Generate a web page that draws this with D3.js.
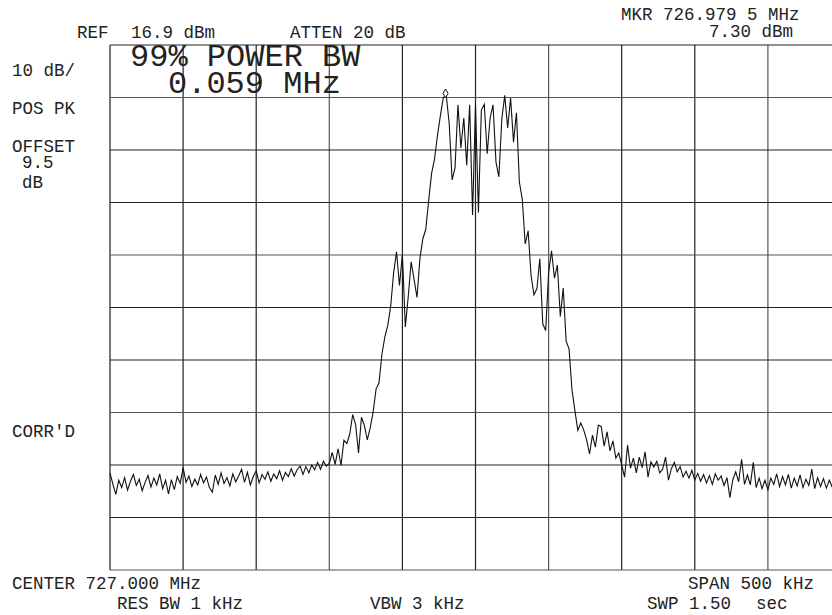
<!DOCTYPE html>
<html>
<head>
<meta charset="utf-8">
<script src="https://cdn.jsdelivr.net/npm/d3@7"></script>
<style>
  body { margin: 0; background: #fff; }
  text { font-family: "Liberation Mono", "Courier New", monospace; fill: #222; }
</style>
</head>
<body>
<div id="chart"></div>
<script>
var svgWidth = 832;
var svgHeight = 615;

// analyzer settings
var centerMHz = 727.000;
var spanKHz = 500;
var refLevel = 16.9;
var dbPerDiv = 10;
var numDivs = 10;

// marker
var markerOffsetKHz = -20.5;  // 726.979 5 MHz
var markerLevel = 7.30;

// trace levels (dBm) at the 251 sweep points
var traceLevels = [
  -64.6, -66.8, -68.7, -66.0, -67.4, -65.5, -67.9, -66.2, -64.9, -67.0,
  -65.8, -68.0, -66.4, -65.1, -67.3, -65.6, -66.9, -64.8, -67.6, -66.0,
  -68.6, -65.9, -67.8, -65.3, -66.6, -63.6, -66.4, -65.2, -67.2, -65.8,
  -66.9, -64.9, -66.5, -65.4, -67.4, -68.3, -65.0, -66.8, -64.6, -66.6,
  -65.5, -67.1, -64.8, -66.3, -65.2, -63.9, -66.4, -64.5, -66.9, -65.3,
  -64.2, -66.5, -64.9, -65.8, -64.4, -66.2, -64.8, -65.7, -64.2, -66.0,
  -64.5, -65.3, -63.8, -65.2, -64.0, -63.3, -64.9, -63.4, -64.6, -63.1,
  -64.0, -62.6, -63.9, -62.4, -63.3, -62.8, -60.7, -63.0, -60.0, -63.2,
  -58.4, -59.0, -57.2, -53.5, -55.4, -60.8, -54.0, -55.6, -58.3, -56.0,
  -53.0, -48.6, -47.5, -42.0, -38.7, -36.5, -32.8, -26.5, -22.5, -28.9,
  -23.0, -36.8, -31.0, -24.4, -27.8, -31.2, -23.7, -20.0, -18.2, -12.6,
  -7.5, -4.8, -0.3, 3.5, 6.9, 7.3, 2.0, -8.8, -6.5, 5.5,
  -2.7, 3.0, -6.0, 5.5, -15.5, 5.5, -15.0, 4.5, 5.6, -3.8,
  3.0, 5.5, -5.4, -8.2, 2.8, 7.3, 1.1, 6.8, -1.6, 4.0,
  -9.2, -12.5, -21.0, -18.5, -27.0, -30.7, -29.5, -23.8, -36.2, -37.5,
  -26.5, -22.3, -27.5, -25.0, -34.8, -29.4, -39.5, -41.0, -48.8, -52.8,
  -56.5, -55.1, -56.4, -58.3, -61.0, -57.4, -59.7, -55.5, -55.8, -59.5,
  -56.8, -60.4, -58.5, -61.8, -60.8, -63.1, -65.4, -59.3, -63.7, -61.8,
  -64.6, -61.6, -63.6, -60.6, -65.4, -62.5, -63.5, -62.4, -64.6, -63.9,
  -61.6, -66.0, -63.8, -62.6, -64.4, -63.4, -65.4, -64.3, -65.6, -64.1,
  -66.0, -64.7, -66.2, -64.9, -66.5, -65.1, -66.8, -64.8, -66.0, -65.2,
  -67.0, -65.5, -69.3, -65.9, -64.4, -66.3, -62.0, -66.8, -65.0, -66.9,
  -62.6, -67.4, -65.6, -67.6, -66.0, -67.8, -65.6, -66.8, -64.8, -67.2,
  -65.3, -66.9, -64.9, -67.5, -65.6, -67.1, -65.0, -67.4, -65.8, -67.0,
  -63.9, -67.6, -65.5, -67.2, -65.7, -67.5, -66.0, -67.3, -65.8, -66.9,
  -66.2
];

// sweep points spread evenly across the span
var sweepOffsets = traceLevels.map(function(d, i) {
  return -spanKHz / 2 + i * spanKHz / (traceLevels.length - 1);
});

var traceData = traceLevels.map(function(d, i) {
  return { f: sweepOffsets[i], level: d };
});

var plot = { left: 110, top: 45, width: 731, height: 525 };

var svg = d3.select("#chart")
  .append("svg")
  .attr("width", svgWidth)
  .attr("height", svgHeight);

var xScale = d3.scaleLinear()
  .domain([-spanKHz / 2, spanKHz / 2])
  .range([plot.left, plot.left + plot.width]);

var yScale = d3.scaleLinear()
  .domain([refLevel - dbPerDiv * numDivs, refLevel])
  .range([plot.top + plot.height, plot.top]);

// graticule
var xTicks = d3.range(numDivs + 1).map(function(i) { return -spanKHz / 2 + i * spanKHz / numDivs; });
var yTicks = d3.range(numDivs + 1).map(function(i) { return refLevel - i * dbPerDiv; });

var grid = svg.append("g");

grid.selectAll("line.v")
  .data(xTicks)
  .enter()
  .append("line")
  .attr("class", "v")
  .attr("x1", function(d) { return xScale(d); })
  .attr("x2", function(d) { return xScale(d); })
  .attr("y1", plot.top)
  .attr("y2", plot.top + plot.height)
  .attr("stroke", function(d, i) { return i % 3 === 0 ? "#555" : "#222"; })
  .attr("stroke-width", function(d, i) { return i === 0 ? 1.6 : 1.2; });

grid.selectAll("line.h")
  .data(yTicks)
  .enter()
  .append("line")
  .attr("class", "h")
  .attr("x1", plot.left)
  .attr("x2", plot.left + plot.width)
  .attr("y1", function(d) { return yScale(d); })
  .attr("y2", function(d) { return yScale(d); })
  .attr("stroke", function(d, i) { return i % 3 === 1 ? "#555" : "#222"; })
  .attr("stroke-width", 1.2);

// trace
var line = d3.line()
  .x(function(d) { return xScale(d.f); })
  .y(function(d) { return yScale(d.level); });

svg.append("path")
  .datum(traceData)
  .attr("d", line)
  .attr("fill", "none")
  .attr("stroke", "#111")
  .attr("stroke-width", 1.1);

// marker diamond
var mx = xScale(markerOffsetKHz);
var my = yScale(markerLevel);
svg.append("path")
  .attr("d", d3.symbol().type(d3.symbolDiamond).size(22)())
  .attr("transform", "translate(" + mx + "," + (my - 2) + ")")
  .attr("fill", "#fff")
  .attr("stroke", "#111")
  .attr("stroke-width", 1);

// annotations
var small = 17.5;
function label(x, y, s, size) {
  svg.append("text")
    .attr("x", x)
    .attr("y", y)
    .attr("font-size", (size || small) + "px")
    .attr("xml:space", "preserve")
    .text(s);
}

label(77, 38, "REF");
label(131, 38, "16.9 dBm");
label(290, 38, "ATTEN 20 dB");
label(621, 20, "MKR 726.979 5 MHz");
label(709, 37, "7.30 dBm");

label(12, 76, "10 dB/");
label(12, 114, "POS PK");
label(12, 152, "OFFSET");
label(22, 168, "9.5");
label(22, 188, "dB");
label(12, 437, "CORR'D");

label(12, 589, "CENTER 727.000 MHz");
label(117, 609, "RES BW 1 kHz");
label(370, 609, "VBW 3 kHz");
label(688, 589, "SPAN 500 kHz");
label(647, 609, "SWP 1.50");
label(756, 609, "sec");

label(130, 66, "99% POWER BW", 32);
label(168, 93, "0.059 MHz", 32);
</script>
</body>
</html>
